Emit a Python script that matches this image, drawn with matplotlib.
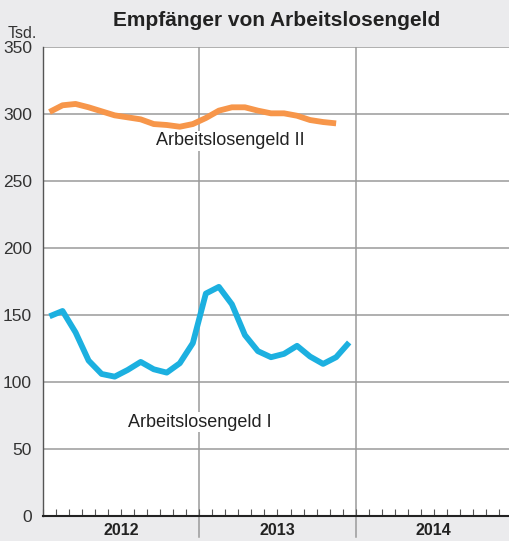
import matplotlib
matplotlib.use("Agg")
import matplotlib.pyplot as plt
import numpy as np

plt.rcParams['font.family'] = ['Liberation Sans', 'DejaVu Sans']

years = ["2012", "2013", "2014"]
alg1 = [149, 153, 137, 116, 106, 104, 109, 115, 109.5, 107, 114, 129,
        166, 171, 158, 135, 123, 118.5, 121, 127, 119, 113.5, 118.5, 129.5]
alg2 = [301.5, 306.5, 307.5, 305, 302, 299, 297.5, 296, 292.5, 291.8, 290.5, 292.5,
        297, 302.5, 305, 305, 302.5, 300.5, 300.5, 298.7, 295.5, 294, 293]
yticks = [0, 50, 100, 150, 200, 250, 300, 350]

bg = '#ebebed'
fig = plt.figure(figsize=(5.09, 5.41), dpi=100, facecolor=bg)
ax = fig.add_axes([43/509, 25/541, (512-43)/509, (516-47)/541])
ax.set_facecolor('white')

x1 = np.arange(len(alg1)) + 0.5
x2 = np.arange(len(alg2)) + 0.5
ax.plot(x2, alg2, color='#f7964a', lw=4.2, solid_capstyle='butt', zorder=3)
ax.plot(x1, alg1, color='#1cb0e0', lw=4.2, solid_capstyle='butt', zorder=3)

ax.set_xlim(0, 36)
ax.set_ylim(0, 350)
ax.set_yticks(yticks)
ax.set_yticklabels([str(v) for v in yticks], fontsize=12.5, color='#333333')
ax.tick_params(axis='y', length=0, pad=8)
for v in yticks[1:]:
    ax.axhline(v, color='#9a9a9a', lw=1.1, zorder=1)
for k in range(1, 3):
    ax.axvline(12*k, color='#9a9a9a', lw=1.1, zorder=1)
    ax.plot([12*k, 12*k], [0, -0.045], transform=ax.get_xaxis_transform(),
            color='#9a9a9a', lw=1.1, clip_on=False)

ax.set_xticks(np.arange(0, 37, 1))
ax.set_xticklabels([])
ax.tick_params(axis='x', direction='in', length=5, width=0.8, color='#555555')
for i, y in enumerate(years):
    ax.text(12*i + 6, -0.031, y, transform=ax.get_xaxis_transform(),
            ha='center', va='center', fontsize=11.5, fontweight='bold', color='#222222')

for s in ['top', 'right']:
    ax.spines[s].set_visible(False)
ax.spines['left'].set_color('#555555')
ax.spines['left'].set_linewidth(1.0)
ax.spines['bottom'].set_color('#222222')
ax.spines['bottom'].set_linewidth(1.5)

ax.text(14.35, 280, 'Arbeitslosengeld II', ha='center', va='center', fontsize=13,
        color='#222222', zorder=4,
        bbox=dict(facecolor='white', edgecolor='none', pad=1))
ax.text(12.05, 70, 'Arbeitslosengeld I', ha='center', va='center', fontsize=13,
        color='#222222', zorder=4,
        bbox=dict(facecolor='white', edgecolor='none', pad=1))

fig.text(277/509, 1 - 20/541, 'Empfänger von Arbeitslosengeld', ha='center', va='center',
         fontsize=15, fontweight='bold', color='#222222')
fig.text(8/509, 1 - 34/541, 'Tsd.', ha='left', va='center', fontsize=11.5, color='#333333')

fig.savefig('out.png', dpi=100, facecolor=bg)
